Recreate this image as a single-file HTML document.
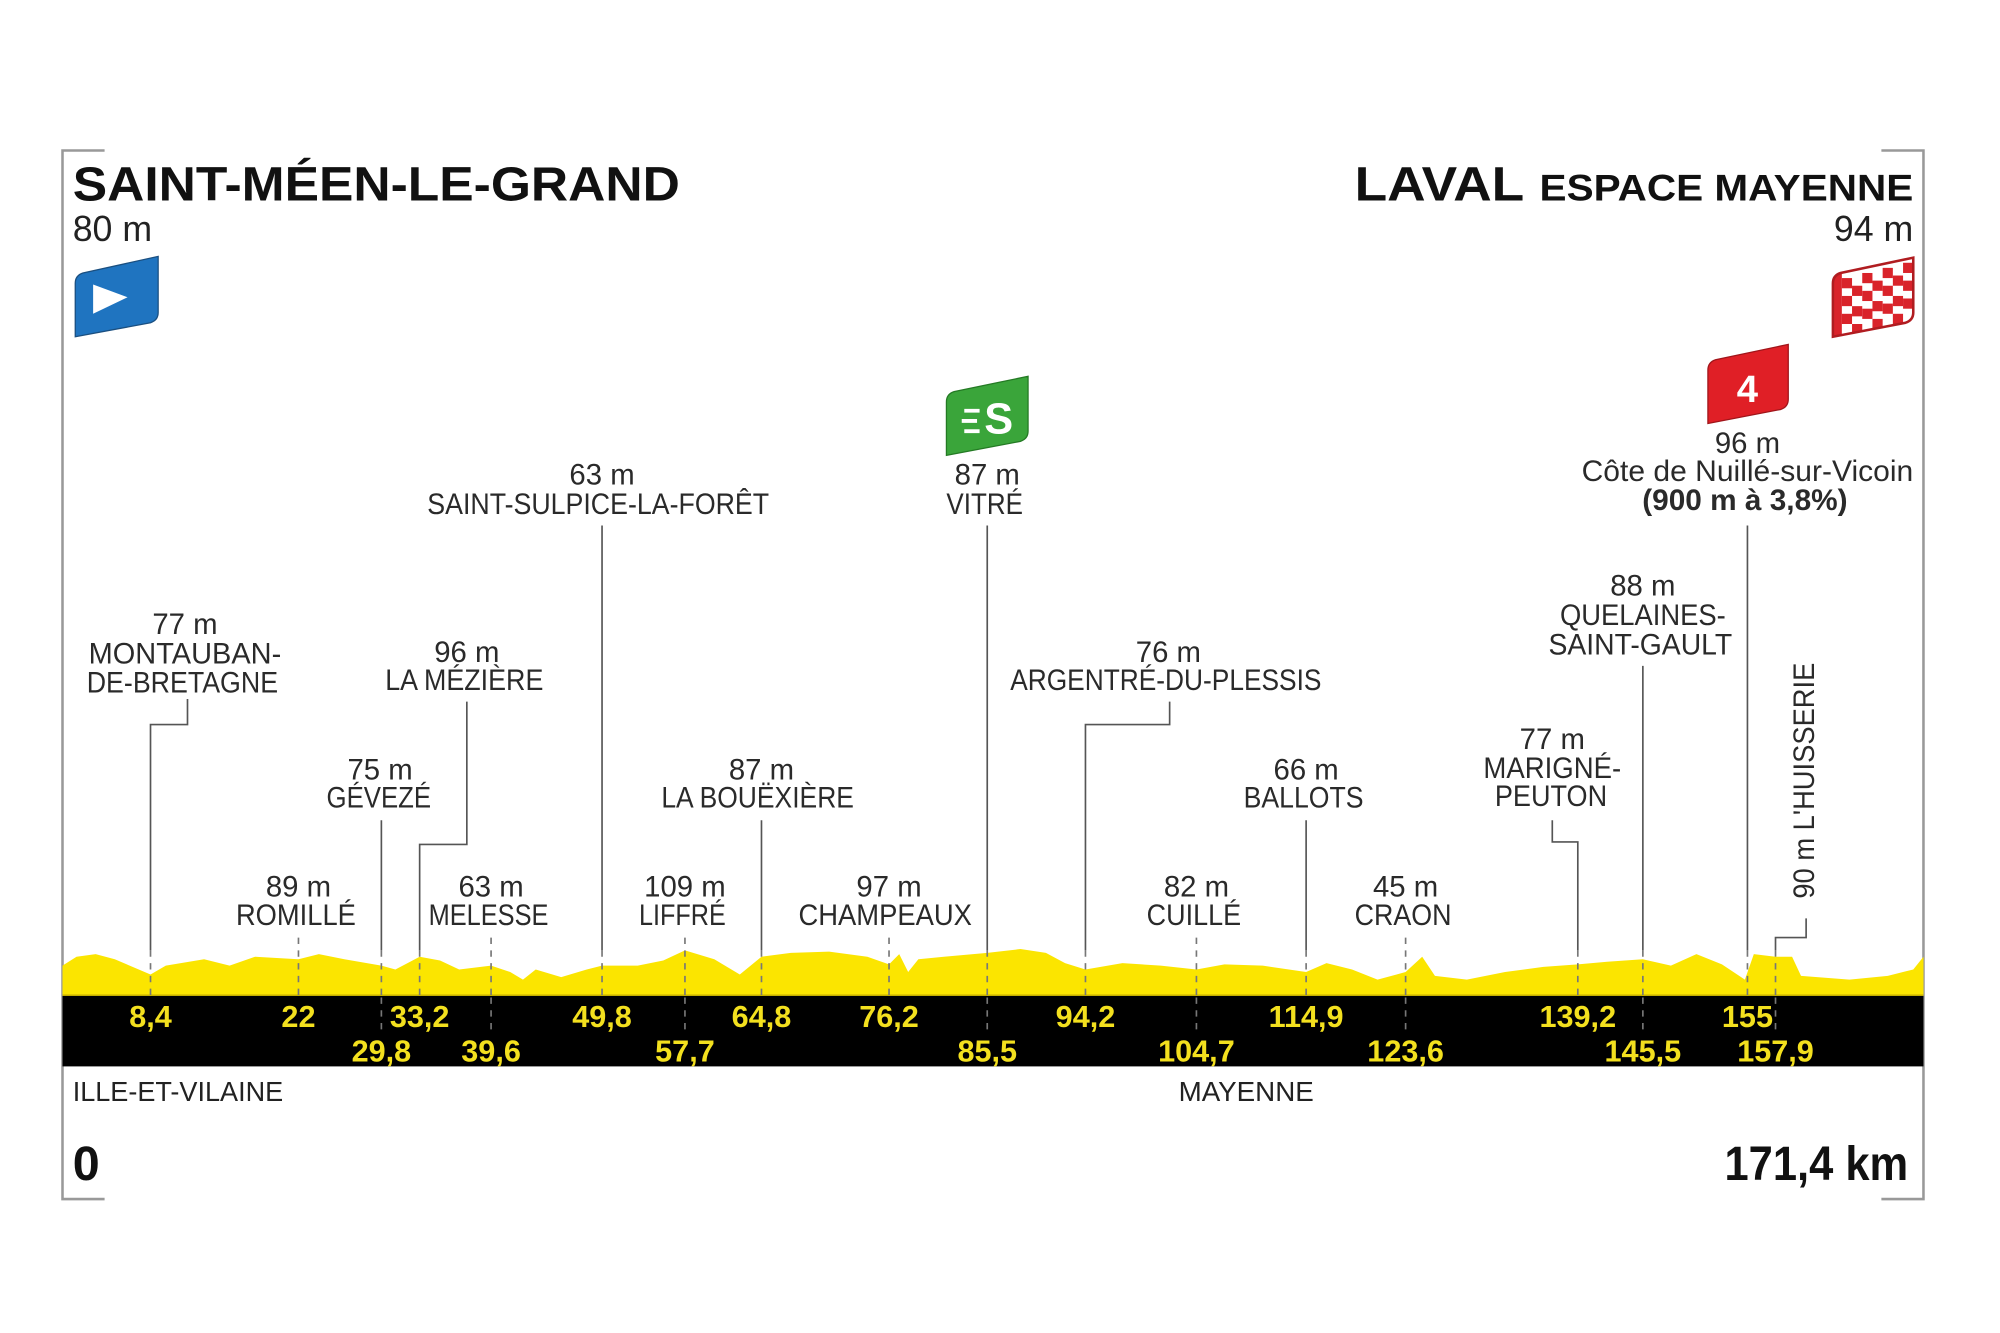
<!DOCTYPE html>
<html><head><meta charset="utf-8"><style>
html,body{margin:0;padding:0;background:#fff;width:2000px;height:1333px;overflow:hidden}
svg{display:block}
.l{font-family:"Liberation Sans Narrow","Liberation Sans",sans-serif;font-size:23px;fill:#2a2a2a;text-anchor:middle}
.k{font-family:"Liberation Sans Narrow","Liberation Sans",sans-serif;font-size:24px;font-weight:bold;fill:#f3e01e;text-anchor:middle}
.ln{stroke:#555;stroke-width:1.3;fill:none}
.ds{stroke:#777;stroke-width:1.3;stroke-dasharray:5,5;fill:none}
</style></head><body>
<svg width="2000" height="1333" viewBox="0 0 1568 1045" preserveAspectRatio="none" xmlns="http://www.w3.org/2000/svg">
<!-- frame -->
<path d="M82 118 H49 V940 H82" stroke="#999" stroke-width="2" fill="none"/>
<path d="M1475 118 H1508 V940 H1475" stroke="#999" stroke-width="2" fill="none"/>
<!-- profile -->
<path fill="#fbe500" d="M49 780 L49 757 L60 750 L75 748 L90 752 L118 764 L130 757 L160 752 L180 757 L200 750 L234 752 L250 748 L270 752 L299 757 L310 760 L329 750 L345 753 L360 760 L385 757 L400 762 L410 768 L420 760 L440 766 L460 760 L472 757 L500 757 L520 753 L537 745 L560 752 L580 764 L597 750 L620 747 L650 746 L680 750 L697 756 L705 748 L712 762 L720 752 L740 750 L774 747 L800 744 L820 747 L835 755 L851 760 L880 755 L910 757 L938 760 L960 756 L990 757 L1024 762 L1040 755 L1060 760 L1080 768 L1102 762 L1115 750 L1125 765 L1150 768 L1180 762 L1210 758 L1237 756 L1260 754 L1288 752 L1310 757 L1330 748 L1350 756 L1368 768 L1375 748 L1392 750 L1405 750 L1412 765 L1450 768 L1480 765 L1500 760 L1508 750 L1508 780 Z"/>
<rect x="49" y="780" width="1459" height="56" fill="#000"/>
<line x1="49" y1="780" x2="1508" y2="780" stroke="#e0c800" stroke-width="1.5"/>

<!-- titles -->
<text x="57" y="157" font-family="Liberation Sans,sans-serif" font-weight="bold" font-size="38" textLength="476" lengthAdjust="spacingAndGlyphs" fill="#111">SAINT-MÉEN-LE-GRAND</text>
<text x="57" y="189" font-family="Liberation Sans,sans-serif" font-size="28" fill="#222">80 m</text>
<text x="1062" y="157" font-family="Liberation Sans,sans-serif" font-weight="bold" font-size="38" textLength="133" lengthAdjust="spacingAndGlyphs" fill="#111">LAVAL</text>
<text x="1207" y="157" font-family="Liberation Sans,sans-serif" font-weight="bold" font-size="29" textLength="293" lengthAdjust="spacingAndGlyphs" fill="#111">ESPACE MAYENNE</text>
<text x="1500" y="189" font-family="Liberation Sans,sans-serif" font-size="28" fill="#222" text-anchor="end">94 m</text>

<!-- flags -->
<path d="M59 222 Q59 216 65 214 L124 201 L124 245 Q124 251 118 253 L59 264 Z" fill="#1f74c0" stroke="#1a4f80" stroke-width="1"/>
<path d="M73 223 L100 233 L73 246 Z" fill="#fff"/>
<g>
<clipPath id="cf"><path d="M1437 222 Q1437 216 1443 214 L1500 202 L1500 245 Q1500 251 1494 253 L1437 264 Z"/></clipPath>
<path d="M1437 222 Q1437 216 1443 214 L1500 202 L1500 245 Q1500 251 1494 253 L1437 264 Z" fill="#fff"/>
<g clip-path="url(#cf)" fill="#d9232a">
<rect x="1437" y="200" width="7" height="70"/>
<g>
<rect x="1444" y="218" width="8" height="8"/><rect x="1460" y="214" width="8" height="8"/><rect x="1476" y="210" width="8" height="8"/><rect x="1492" y="206" width="8" height="8"/>
<rect x="1452" y="224" width="8" height="8"/><rect x="1468" y="220" width="8" height="8"/><rect x="1484" y="216" width="8" height="8"/>
<rect x="1444" y="232" width="8" height="8"/><rect x="1460" y="228" width="8" height="8"/><rect x="1476" y="224" width="8" height="8"/><rect x="1492" y="220" width="8" height="8"/>
<rect x="1452" y="240" width="8" height="8"/><rect x="1468" y="236" width="8" height="8"/><rect x="1484" y="232" width="8" height="8"/>
<rect x="1444" y="246" width="8" height="8"/><rect x="1460" y="242" width="8" height="8"/><rect x="1476" y="238" width="8" height="8"/><rect x="1492" y="234" width="8" height="8"/>
<rect x="1452" y="254" width="8" height="8"/><rect x="1468" y="250" width="8" height="8"/><rect x="1484" y="246" width="8" height="8"/>
</g></g>
<path d="M1437 222 Q1437 216 1443 214 L1500 202 L1500 245 Q1500 251 1494 253 L1437 264 Z" fill="none" stroke="#b01c20" stroke-width="2"/>
</g>
<path d="M1339 290 Q1339 284 1345 282 L1402 270 L1402 313 Q1402 319 1396 321 L1339 332 Z" fill="#e01f26" stroke="#a0151a" stroke-width="1"/>
<text x="1370" y="315" font-family="Liberation Sans,sans-serif" font-weight="bold" font-size="30" fill="#fff" text-anchor="middle">4</text>
<path d="M742 315 Q742 309 748 307 L806 295 L806 338 Q806 344 800 346 L742 357 Z" fill="#3aa53a" stroke="#247a24" stroke-width="1"/>
<text x="783" y="340" font-family="Liberation Sans,sans-serif" font-weight="bold" font-size="34" fill="#fff" text-anchor="middle">S</text>
<path d="M756 322 h12 M754 330 h12 M756 338 h12" stroke="#fff" stroke-width="3"/>

<!-- leader lines -->
<path class="ln" d="M147 548 V568 H118 V745"/>
<path class="ln" d="M299 643 V745"/>
<path class="ln" d="M366 550 V662 H329 V745"/>
<path class="ln" d="M472 412 V745"/>
<path class="ln" d="M597 643 V745"/>
<path class="ln" d="M774 412 V745"/>
<path class="ln" d="M917 550 V568 H851 V745"/>
<path class="ln" d="M1024 643 V745"/>
<path class="ln" d="M1217 643 V660 H1237 V745"/>
<path class="ln" d="M1288 522 V745"/>
<path class="ln" d="M1370 412 V745"/>
<path class="ln" d="M1416 720 V735 H1392 V745"/>
<path class="ds" d="M118 745V780 M234 735V780 M299 745V780 M329 745V780 M385 735V780 M472 745V780 M537 735V780 M597 745V780 M697 735V780 M774 745V780 M851 745V780 M938 735V780 M1024 745V780 M1102 735V780 M1237 745V780 M1288 745V780 M1370 745V780 M1392 745V780"/>
<path class="ds" d="M299 782V812 M385 782V812 M537 782V812 M774 782V812 M938 782V812 M1102 782V812 M1288 782V812 M1392 782V812" stroke="#888"/>

<!-- km -->
<text class="k" x="118" y="805">8,4</text>
<text class="k" x="234" y="805">22</text>
<text class="k" x="329" y="805">33,2</text>
<text class="k" x="472" y="805">49,8</text>
<text class="k" x="597" y="805">64,8</text>
<text class="k" x="697" y="805">76,2</text>
<text class="k" x="851" y="805">94,2</text>
<text class="k" x="1024" y="805">114,9</text>
<text class="k" x="1237" y="805">139,2</text>
<text class="k" x="1370" y="805">155</text>
<text class="k" x="299" y="832">29,8</text>
<text class="k" x="385" y="832">39,6</text>
<text class="k" x="537" y="832">57,7</text>
<text class="k" x="774" y="832">85,5</text>
<text class="k" x="938" y="832">104,7</text>
<text class="k" x="1102" y="832">123,6</text>
<text class="k" x="1288" y="832">145,5</text>
<text class="k" x="1392" y="832">157,9</text>

<!-- labels -->
<g class="l">
<text class="l" x="145" y="497">77 m</text>
<text class="l" x="145" y="520" textLength="151" lengthAdjust="spacingAndGlyphs">MONTAUBAN-</text>
<text class="l" x="143" y="543" textLength="150" lengthAdjust="spacingAndGlyphs">DE-BRETAGNE</text>
<text class="l" x="234" y="703">89 m</text>
<text class="l" x="232" y="725" textLength="94" lengthAdjust="spacingAndGlyphs">ROMILLÉ</text>
<text class="l" x="298" y="611">75 m</text>
<text class="l" x="297" y="633" textLength="82" lengthAdjust="spacingAndGlyphs">GÉVEZÉ</text>
<text class="l" x="366" y="519">96 m</text>
<text class="l" x="364" y="541" textLength="124" lengthAdjust="spacingAndGlyphs">LA MÉZIÈRE</text>
<text class="l" x="385" y="703">63 m</text>
<text class="l" x="383" y="725" textLength="94" lengthAdjust="spacingAndGlyphs">MELESSE</text>
<text class="l" x="472" y="380">63 m</text>
<text class="l" x="469" y="403" textLength="268" lengthAdjust="spacingAndGlyphs">SAINT-SULPICE-LA-FORÊT</text>
<text class="l" x="537" y="703">109 m</text>
<text class="l" x="535" y="725" textLength="68" lengthAdjust="spacingAndGlyphs">LIFFRÉ</text>
<text class="l" x="597" y="611">87 m</text>
<text class="l" x="594" y="633" textLength="151" lengthAdjust="spacingAndGlyphs">LA BOUËXIÈRE</text>
<text class="l" x="697" y="703">97 m</text>
<text class="l" x="694" y="725" textLength="136" lengthAdjust="spacingAndGlyphs">CHAMPEAUX</text>
<text class="l" x="774" y="380">87 m</text>
<text class="l" x="772" y="403" textLength="60" lengthAdjust="spacingAndGlyphs">VITRÉ</text>
<text class="l" x="916" y="519">76 m</text>
<text class="l" x="914" y="541" textLength="244" lengthAdjust="spacingAndGlyphs">ARGENTRÉ-DU-PLESSIS</text>
<text class="l" x="938" y="703">82 m</text>
<text class="l" x="936" y="725" textLength="74" lengthAdjust="spacingAndGlyphs">CUILLÉ</text>
<text class="l" x="1024" y="611">66 m</text>
<text class="l" x="1022" y="633" textLength="94" lengthAdjust="spacingAndGlyphs">BALLOTS</text>
<text class="l" x="1102" y="703">45 m</text>
<text class="l" x="1100" y="725" textLength="76" lengthAdjust="spacingAndGlyphs">CRAON</text>
<text class="l" x="1217" y="587">77 m</text>
<text class="l" x="1217" y="610" textLength="108" lengthAdjust="spacingAndGlyphs">MARIGNÉ-</text>
<text class="l" x="1216" y="632" textLength="88" lengthAdjust="spacingAndGlyphs">PEUTON</text>
<text class="l" x="1288" y="467">88 m</text>
<text class="l" x="1288" y="490" textLength="130" lengthAdjust="spacingAndGlyphs">QUELAINES-</text>
<text class="l" x="1286" y="513" textLength="144" lengthAdjust="spacingAndGlyphs">SAINT-GAULT</text>
<text class="l" x="1370" y="355" font-family="Liberation Sans,sans-serif" font-size="21">96 m</text>
<text class="l" x="1370" y="377" font-family="Liberation Sans,sans-serif" font-size="21" textLength="260" lengthAdjust="spacingAndGlyphs">Côte de Nuillé-sur-Vicoin</text>
<text class="l" x="1368" y="400" font-family="Liberation Sans,sans-serif" font-size="21" font-weight="bold" textLength="161" lengthAdjust="spacingAndGlyphs">(900 m à 3,8%)</text>
<text class="l" transform="translate(1422,612) rotate(-90)" x="0" y="0" font-family="Liberation Sans,sans-serif" font-size="21" textLength="185" lengthAdjust="spacingAndGlyphs">90 m L'HUISSERIE</text>
</g>

<!-- bottom -->
<text x="57" y="863" font-family="Liberation Sans Narrow,Liberation Sans,sans-serif" font-size="22" fill="#222" textLength="165" lengthAdjust="spacingAndGlyphs">ILLE-ET-VILAINE</text>
<text x="977" y="863" font-family="Liberation Sans Narrow,Liberation Sans,sans-serif" font-size="22" fill="#222" text-anchor="middle" textLength="106" lengthAdjust="spacingAndGlyphs">MAYENNE</text>
<text x="57" y="925" font-family="Liberation Sans Narrow,Liberation Sans,sans-serif" font-size="38" font-weight="bold" fill="#111">0</text>
<text x="1352" y="925" font-family="Liberation Sans Narrow,Liberation Sans,sans-serif" font-size="38" font-weight="bold" fill="#111" textLength="144" lengthAdjust="spacingAndGlyphs">171,4 km</text>
</svg>
</body></html>
